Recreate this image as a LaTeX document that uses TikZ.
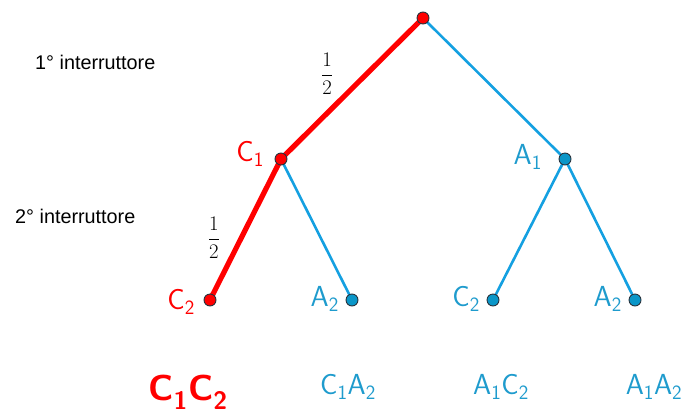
\documentclass[tikz,border=0pt]{standalone}
\usepackage{fontspec}
\setmainfont{Liberation Sans}
\definecolor{tred}{RGB}{255,0,0}
\definecolor{tblue}{RGB}{20,160,225}
\definecolor{tlab}{RGB}{30,155,205}
\definecolor{tfill}{RGB}{10,150,200}
\definecolor{tedge}{RGB}{40,50,60}
\begin{document}
\begin{tikzpicture}[x=1pt,y=-1pt,
  dotr/.style={circle,fill=tred,draw=tedge,line width=0.9pt,inner sep=0pt,minimum size=12pt},
  dotb/.style={circle,fill=tfill,draw=tedge,line width=0.9pt,inner sep=0pt,minimum size=12pt},
  redline/.style={tred,line width=5.2pt},
  blueline/.style={tblue,line width=2.6pt},
  labr/.style={text=tred,font=\fontsize{29}{32}\selectfont,inner sep=1pt},
  labb/.style={text=tlab,font=\fontsize{29}{32}\selectfont,inner sep=1pt},
  lvl/.style={font=\fontsize{19.8}{22}\selectfont,anchor=west,inner sep=0pt},
  frac/.style={font=\fontsize{20.5}{23}\selectfont,inner sep=0pt}]
\useasboundingbox (0,0) rectangle (684,410);
\coordinate (r) at (423,18);
\coordinate (c1) at (281,159);
\coordinate (a1) at (565,159);
\coordinate (l1) at (210,300);
\coordinate (l2) at (352,300);
\coordinate (l3) at (493,300);
\coordinate (l4) at (635,300);
\draw[blueline] (r) -- (a1);
\draw[blueline] (c1) -- (l2);
\draw[blueline] (a1) -- (l3);
\draw[blueline] (a1) -- (l4);
\draw[redline] (r) -- (c1);
\draw[redline] (c1) -- (l1);
\node[dotr] (nr) at (r) {};
\node[dotr] (nc1) at (c1) {};
\node[dotb] (na1) at (a1) {};
\node[dotr] (nl1) at (l1) {};
\node[dotb] (nl2) at (l2) {};
\node[dotb] (nl3) at (l3) {};
\node[dotb] (nl4) at (l4) {};
\node[labr,anchor=east] (tc1) at (265,154) {$\mathsf{C_1}$};
\node[labb,anchor=east] (ta1) at (543,157) {$\mathsf{A_1}$};
\node[labr,anchor=east] (tl1) at (196,302) {$\mathsf{C_2}$};
\node[labb,anchor=east] (tl2) at (340,299) {$\mathsf{A_2}$};
\node[labr,anchor=east,text=tlab] (tl3) at (481,299) {$\mathsf{C_2}$};
\node[labb,anchor=east] (tl4) at (623,299) {$\mathsf{A_2}$};
\node[frac] (f1) at (327,74) {$\displaystyle\frac{1}{2}$};
\node[frac] (f2) at (214,238) {$\displaystyle\frac{1}{2}$};
\node[lvl] (lv1) at (35,62) {1° interruttore};
\node[lvl] (lv2) at (15,216) {2° interruttore};
\node[text=tred,font=\fontsize{36}{40}\selectfont\boldmath,inner sep=0pt] (b1) at (188,392) {$\mathbf{\mathsf{C_1C_2}}$};
\node[labb] (b2) at (348,387) {$\mathsf{C_1A_2}$};
\node[labb] (b3) at (501,387) {$\mathsf{A_1C_2}$};
\node[labb] (b4) at (654,387) {$\mathsf{A_1A_2}$};
\end{tikzpicture}
\end{document}
